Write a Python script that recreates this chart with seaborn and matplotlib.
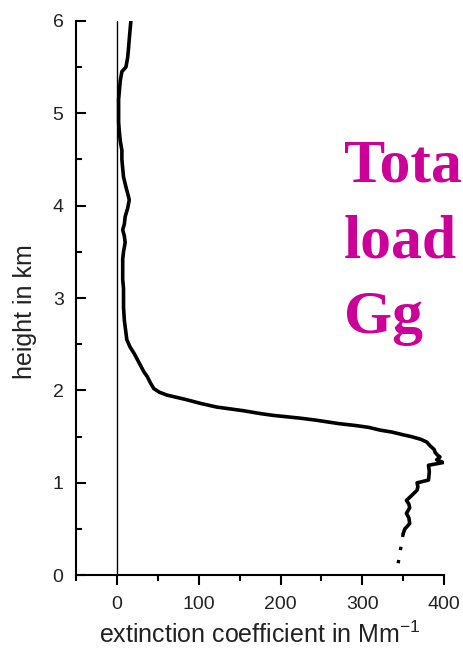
import matplotlib
matplotlib.use("Agg")
import matplotlib.pyplot as plt
import seaborn as sns
import pandas as pd

# Lidar extinction profile (height in km, extinction in Mm^-1)
height_km = [6.00, 5.90, 5.80, 5.69, 5.60, 5.50, 5.45, 5.35, 5.25, 5.15, 5.04,
             4.90, 4.79, 4.70, 4.60, 4.50, 4.40, 4.31, 4.20, 4.10, 4.06, 3.97,
             3.88, 3.80, 3.74, 3.67, 3.60, 3.50, 3.42, 3.34, 3.20, 3.10, 3.02,
             2.90, 2.76, 2.62, 2.55, 2.47, 2.40, 2.30, 2.20, 2.15, 2.08, 2.02,
             1.98, 1.95, 1.90, 1.86, 1.82, 1.78, 1.75, 1.73, 1.70, 1.68, 1.66,
             1.64, 1.62, 1.60, 1.57, 1.55, 1.52, 1.50, 1.47, 1.44, 1.40, 1.36,
             1.33, 1.30, 1.28, 1.25, 1.22, 1.19, 1.12, 1.03, 1.00, 0.96, 0.92,
             0.86, 0.81, 0.77, 0.73, 0.67, 0.62, 0.56, 0.50, 0.45]
extinction = [17, 16, 15, 14, 13, 11, 6, 4, 3, 2, 2,
              2, 3, 4, 6, 6, 7, 8, 11, 14, 15, 13,
              10, 9, 7, 9, 10, 8, 7, 7, 7, 8, 8,
              8, 9, 11, 12, 16, 21, 27, 33, 37, 41, 45,
              52, 61, 85, 102, 122, 155, 175, 191, 224, 242, 257,
              272, 292, 308, 322, 336, 350, 360, 372, 379, 383, 388,
              389, 392, 395, 391, 399, 381, 382, 381, 367, 368, 367,
              360, 354, 357, 358, 354, 357, 358, 352, 350]

# Extrapolated part below the overlap region
height_low = [0.45, 0.03]
extinction_low = [350, 342]

x_ticks = [0, 100, 200, 300, 400]
y_ticks = [0, 1, 2, 3, 4, 5, 6]

sns.set_theme(style="ticks")
plt.rcParams["font.family"] = ["Liberation Sans", "DejaVu Sans"]

fig = plt.figure(figsize=(4.64, 6.5), dpi=100)
ax = fig.add_axes([0.164, 0.115, 0.793, 0.853])

profile = pd.DataFrame({"ext": extinction, "h": height_km})
lower = pd.DataFrame({"ext": extinction_low, "h": height_low})

ax.axvline(0, color="black", lw=1.0, zorder=1)
sns.lineplot(data=profile, x="ext", y="h", sort=False, estimator=None,
             color="black", lw=2.6, ax=ax, zorder=3)
sns.lineplot(data=lower, x="ext", y="h", sort=False, estimator=None,
             color="black", lw=2.4, ax=ax, zorder=3,
             linestyle=(0, (1, 3.0)))

ax.set_xlim(-50, 400)
ax.set_ylim(0, 6)
ax.set_xticks(x_ticks)
ax.set_yticks(y_ticks)
ax.set_xticks([-50, 50, 150, 250, 350], minor=True)
ax.set_yticks([0.5, 1.5, 2.5, 3.5, 4.5, 5.5], minor=True)

sns.despine(ax=ax)
for side in ("left", "bottom"):
    ax.spines[side].set_linewidth(1.5)
    ax.spines[side].set_color("black")
ax.tick_params(which="major", length=7, width=1.5, labelsize=14,
               colors="black", labelcolor="#222222")
ax.tick_params(which="minor", length=4.5, width=1.5, colors="black")
ax.tick_params(axis="x", which="both", direction="out")
ax.tick_params(axis="x", which="major", pad=8)
ax.tick_params(axis="y", which="both", direction="in")
ax.tick_params(axis="y", which="major", pad=9)

ax.set_xlabel("extinction coefficient in Mm$^{\\mathregular{-1}}$",
              fontsize=18, color="#222222", labelpad=6)
ax.set_ylabel("height in km", fontsize=18, color="#222222", labelpad=11)
ax.yaxis.label.set_y(0.475)

# Annotation, one line at a time
for txt, base_px in (("Tota", 182), ("load", 257), ("Gg", 333)):
    fig.text(344 / 464, 1 - base_px / 650, txt, color="#CC0099",
             family=["Liberation Serif", "DejaVu Serif"], fontweight="bold",
             fontsize=44.5, ha="left", va="baseline")

fig.savefig("out.png", dpi=100, facecolor="white")
